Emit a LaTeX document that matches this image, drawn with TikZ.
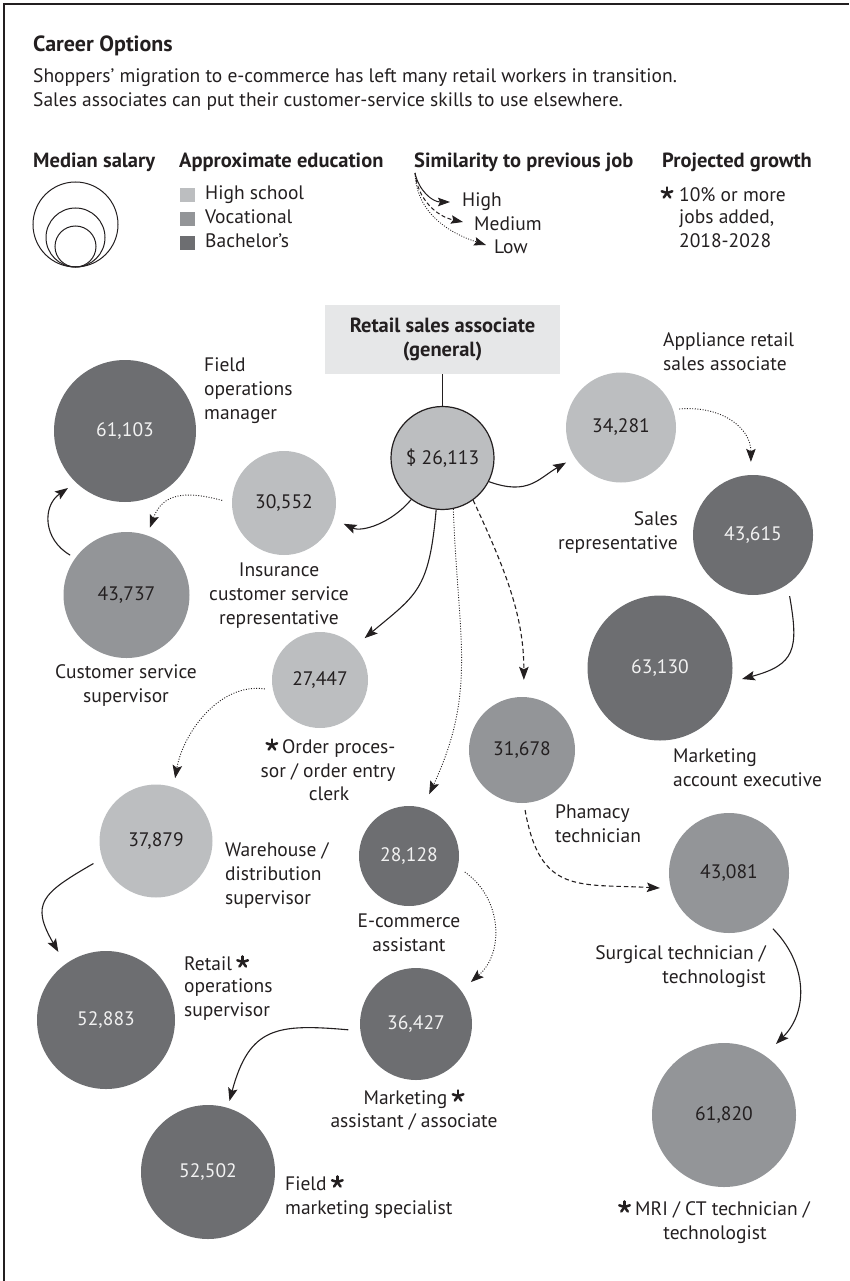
\documentclass[tikz,border=0pt]{standalone}
\usepackage{fontspec}
\setmainfont{PT Sans}
\usetikzlibrary{arrows.meta,calc}
\definecolor{txt}{HTML}{231F20}
\definecolor{hs}{HTML}{BCBEC0}
\definecolor{voc}{HTML}{939598}
\definecolor{bac}{HTML}{6D6E71}
\definecolor{boxc}{HTML}{E6E7E8}
\definecolor{numw}{HTML}{F2F2F2}
\newcommand{\fs}{\fontsize{19.5}{24}\selectfont}
\newcommand{\fsb}{\fontsize{20.5}{24}\selectfont\bfseries}
\begin{document}
\begin{tikzpicture}[x=1pt,y=1pt,
 lbl/.style={font=\fs, text=txt, inner sep=0pt, execute at begin node=\strut, execute at end node=\strut},
 hd/.style={lbl, font=\fsb},
 cnode/.style={circle, inner sep=0pt, font=\fs},
 hsc/.style={cnode, fill=hs, text=txt},
 vcc/.style={cnode, fill=voc, text=txt},
 bcc/.style={cnode, fill=bac, text=numw},
 con/.style={draw=txt, line width=1.1pt, -{Stealth[length=13pt,width=9.5pt,inset=2.5pt]}},
 dotc/.style={con, line width=0.9pt, dash pattern=on 1pt off 1.6pt},
 dashc/.style={con, dash pattern=on 4.5pt off 3pt},
 lcon/.style={draw=txt, line width=1pt, -{Stealth[length=12pt,width=8.5pt,inset=2pt]}},
 ldot/.style={lcon, line width=0.8pt, dash pattern=on 1pt off 1.5pt},
 ldash/.style={lcon, dash pattern=on 4pt off 2.5pt},
 legc/.style={circle, draw=txt, line width=1pt, inner sep=0pt},
 sq/.style={minimum size=14.5pt, inner sep=0pt},
 ast/.pic={\foreach \a in {90,162,234,306,18} \draw[txt, line width=2.5pt, line cap=round] (0,0) -- (\a:5.6);},
]
\useasboundingbox (0,0) rectangle (849,-1281);
\draw[txt, line width=1.6pt] (4,-1281) -- (4,-4) -- (849,-4);

% title
\node[lbl, anchor=west, font=\fontsize{22}{24}\selectfont\bfseries] (title) at (33,-47) {Career Options};
\node[lbl, anchor=west] (sub1) at (33,-78) {Shoppers' migration to e-commerce has left many retail workers in transition.};
\node[lbl, anchor=west] (sub2) at (33,-102) {Sales associates can put their customer-service skills to use elsewhere.};

% legend headings
\node[hd, anchor=west] (h1) at (33,-163) {Median salary};
\node[hd, anchor=west] (h2) at (179,-163) {Approximate education};
\node[hd, anchor=west] (h3) at (414,-163) {Similarity to previous job};
\node[hd, anchor=west] (h4) at (662,-163) {Projected growth};

% salary legend
\node[legc, minimum size=85pt] (lc1) at (75.5,-224.5) {};
\node[legc, minimum size=59pt] (lc2) at (75.5,-237.5) {};
\node[legc, minimum size=41pt] (lc3) at (75.5,-246.5) {};

% education legend
\node[sq, fill=hs] (sq1) at (187.5,-195) {};
\node[sq, fill=voc] (sq2) at (187.5,-219) {};
\node[sq, fill=bac] (sq3) at (187.5,-243) {};
\node[lbl, anchor=west] (e1) at (205,-195) {High school};
\node[lbl, anchor=west] (e2) at (205,-219) {Vocational};
\node[lbl, anchor=west] (e3) at (205,-243) {Bachelor's};

% similarity legend
\coordinate (sim0) at (415,-173);
\node[lbl, anchor=west] (thigh) at (462,-202) {High};
\node[lbl, anchor=west] (tmed) at (474,-226) {Medium};
\node[lbl, anchor=west] (tlow) at (494,-249) {Low};
\draw[lcon] (sim0) to[out=-78,in=180] ([xshift=-12pt]thigh.west);
\draw[ldash] (sim0) to[out=-84,in=168] ([xshift=-11pt,yshift=4pt]tmed.west);
\draw[ldot] (sim0) to[out=-88,in=162] ([xshift=-8pt,yshift=4pt]tlow.west);

% growth legend
\node[lbl, anchor=west] (gt1) at (679,-197) {10\% or more};
\node[lbl, anchor=west, align=left] (gt2) at (679,-232) {jobs added,\\2018-2028};
\pic at ([xshift=-12pt,yshift=4pt]gt1.west) {ast};

% central box
\node[fill=boxc, minimum width=235.5pt, minimum height=69pt, inner sep=0pt, align=center, font=\fsb, text=txt] (box) at (442.5,-339.5) {Retail sales associate\\(general)};

% circles
\node[hsc, draw=txt, line width=1.2pt, minimum size=103pt] (ret) at (442.5,-458) {\$ 26,113};
\node[bcc, minimum size=142pt] (fom) at (125,-431) {61,103};
\node[hsc, minimum size=104pt] (ins) at (284,-503) {30,552};
\node[vcc, minimum size=126pt] (css) at (126.5,-595) {43,737};
\node[hsc, minimum size=110pt] (app) at (621,-427.5) {34,281};
\node[bcc, minimum size=120pt] (srep) at (753,-535) {43,615};
\node[bcc, minimum size=145pt] (mae) at (660,-668) {63,130};
\node[hsc, minimum size=96pt] (ord) at (320,-680) {27,447};
\node[vcc, minimum size=106pt] (pha) at (522,-750) {31,678};
\node[hsc, minimum size=113pt] (war) at (156,-841) {37,879};
\node[bcc, minimum size=100pt] (eco) at (409,-856) {28,128};
\node[vcc, minimum size=120pt] (sur) at (729,-873) {43,081};
\node[bcc, minimum size=138pt] (ros) at (106,-1020) {52,883};
\node[bcc, minimum size=112pt] (mas) at (416,-1024) {36,427};
\node[vcc, minimum size=144pt] (mri) at (724,-1115) {61,820};
\node[bcc, minimum size=134pt] (fms) at (208,-1172) {52,502};

% labels
\node[lbl, align=left, anchor=west] (lfom) at (204,-392) {Field\\operations\\manager};
\node[lbl, align=left, anchor=west] (lapp) at (663,-355.5) {Appliance retail\\sales associate};
\node[lbl, align=right, anchor=east] (lsrep) at (678,-534) {Sales\\representative};
\node[lbl, align=center] (lins) at (279,-597) {Insurance\\customer service\\representative};
\node[lbl, align=center] (lcss) at (126,-687) {Customer service\\supervisor};
\node[lbl, align=left, anchor=west] (lmae) at (673,-771) {Marketing\\account executive};
% order processor
\node[lbl] (lord2) at (328,-773) {sor / order entry};
\node[lbl, anchor=east] (lord1) at ($(lord2.east)+(0,24)$) {Order proces-};
\node[lbl] (lord3) at (329,-796) {clerk};
\pic at ([xshift=-10pt,yshift=4pt]lord1.west) {ast};
\node[lbl, align=left, anchor=west] (lpha) at (555,-827) {Phamacy\\technician};
\node[lbl, align=left, anchor=west] (lwar) at (225,-877) {Warehouse /\\distribution\\supervisor};
\node[lbl, align=center] (leco) at (409,-936) {E-commerce\\assistant};
\node[lbl, align=right, anchor=east] (lsur) at (766,-968) {Surgical technician /\\technologist};
% retail operations supervisor
\node[lbl, anchor=west] (lros1) at (184,-966) {Retail\kern17pt\null};
\node[lbl, align=left, anchor=west] (lros2) at (184,-1001.5) {operations\\supervisor};
\pic at ([xshift=-6.5pt,yshift=4pt]lros1.east) {ast};
% marketing assistant
\node[lbl] (lmas1) at (414,-1100) {Marketing\kern17pt\null};
\node[lbl] (lmas2) at (414,-1123) {assistant / associate};
\pic at ([xshift=-6.5pt,yshift=4pt]lmas1.east) {ast};
% field marketing specialist
\node[lbl, anchor=west] (lfms1) at (285,-1186) {Field\kern17pt\null};
\node[lbl, anchor=west] (lfms2) at (285,-1210) {marketing specialist};
\pic at ([xshift=-6.5pt,yshift=4pt]lfms1.east) {ast};
% MRI
\node[lbl] (lmri1) at (715,-1211) {\hspace{15pt}MRI / CT technician /};
\node[lbl] (lmri2) at (715,-1235) {technologist};
\pic at ([xshift=4.5pt,yshift=4pt]lmri1.west) {ast};

% connectors
\draw[draw=txt, line width=1pt] (box.south) -- (ret.north);
\draw[con, shorten >=11pt] (ret.233) to[out=230,in=-25] (ins.-18);
\draw[con, shorten >=10pt] (ret.-27) to[out=-20,in=210,looseness=1.2] (app.213);
\draw[con, shorten >=13pt] (ret.263) to[out=265,in=40,looseness=1.3] (ord.44);
\draw[dotc, shorten >=15pt] (ret.282) to[out=272,in=65,looseness=1.1] (eco.74);
\draw[dashc, shorten >=17pt] (ret.306) to[out=295,in=90] (pha.88);
\draw[dotc, shorten <=6pt, shorten >=13pt] (app.19) to[out=5,in=90,looseness=1.2] (srep.92);
\draw[con, shorten <=12pt, shorten >=11pt] (srep.-55) to[out=-80,in=15,looseness=1.5] (mae.-11);
\draw[dotc, shorten <=10pt, shorten >=8pt] (ins.180) to[out=165,in=70,looseness=1.3] (css.71);
\draw[con] ($(css)+(144.7:69)$) to[out=150,in=215,looseness=1.2] ($(fom)+(225:80.6)$);
\draw[dotc, shorten <=8pt, shorten >=9pt] (ord.192) to[out=172,in=80] (war.72);
\draw[con, shorten <=10pt, shorten >=14pt] (war.198) to[out=210,in=120,looseness=1.6] (ros.126);
\draw[dotc] ($(eco)+(-16:58)$) to[out=-35,in=41,looseness=1.05] ($(mas)+(37.4:69)$);
\draw[con, shorten <=12pt, shorten >=7pt] (mas.187) to[out=175,in=75,looseness=1.4] (fms.73);
\draw[dashc, shorten <=7pt, shorten >=11pt] (pha.272) to[out=-80,in=177,looseness=1.4] (sur.195);
\draw[con] ($(sur)+(-51.8:71)$) to[out=-45,in=45,looseness=1.05] ($(mri)+(53.8:88)$);
\end{tikzpicture}
\end{document}
